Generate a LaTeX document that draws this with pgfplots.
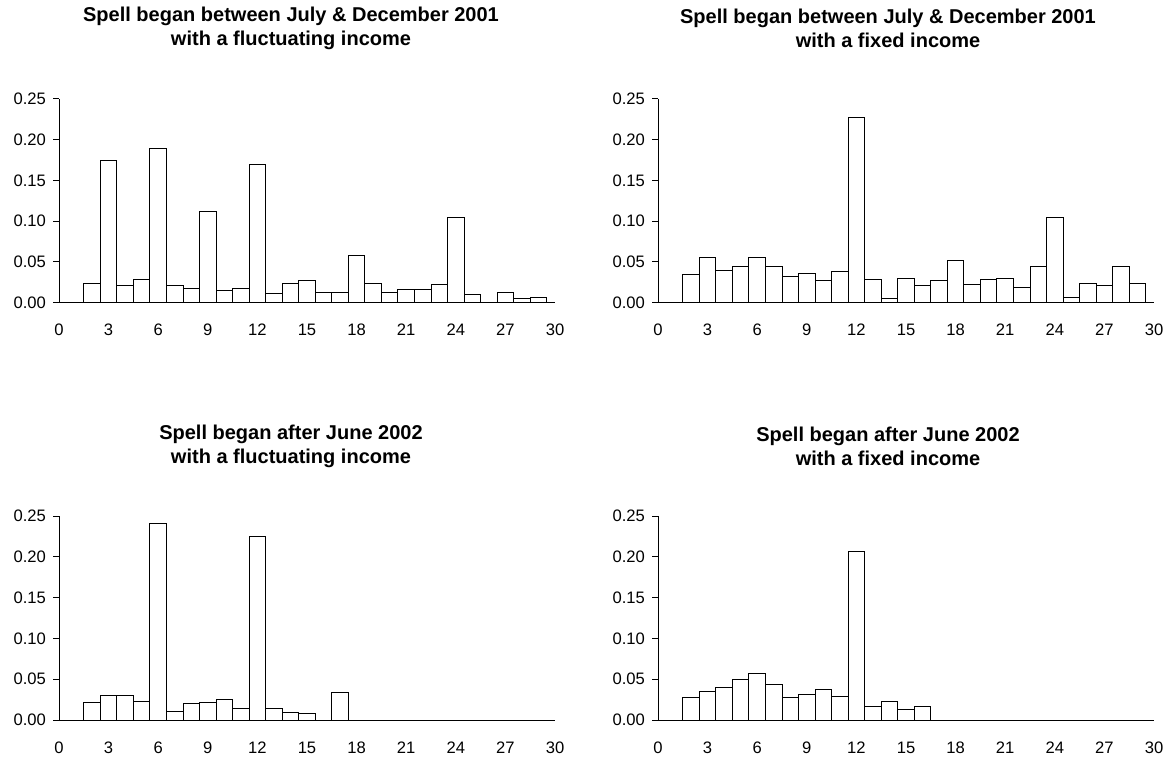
\documentclass[border=0pt]{standalone}
\usepackage{fontspec}
\setmainfont{Liberation Sans}
\usepackage{pgfplots}
\pgfplotsset{compat=1.18}
\pgfplotsset{
 hist/.style={
  scale only axis, width=248pt, height=102pt,
  xmin=0, xmax=30, ymin=0, ymax=0.25,
  axis lines=left, axis line style={-, line width=0.5pt, black},
  xtick={0,3,...,30}, ytick={0,0.05,0.1,0.15,0.2,0.25},
  x tick style={draw=none}, y tick style={line width=0.5pt, black},
  tick align=outside, major tick length=3pt,
  yticklabel style={/pgf/number format/fixed, /pgf/number format/precision=2, /pgf/number format/fixed zerofill},
  /pgf/number format/assume math mode=true,
  tick label style={font=\fontsize{8.3}{10}\selectfont},
  xticklabel style={yshift=-4.3pt},
  clip=false,
 },
 bars/.style={ybar, bar width=1, fill=white, draw=black, line width=0.5pt},
}
\begin{document}
\begin{tikzpicture}
\path (0,0) rectangle (586pt,-378pt);
\tikzset{ttl/.style={align=center, font=\bfseries\fontsize{10}{12}\selectfont}}
\node[ttl] at (145.5pt,-13.5pt) {Spell began between July \& December 2001\\with a fluctuating income};
\node[ttl] at (444pt,-13.5pt) {Spell began between July \& December 2001\\with a fixed income};
\node[ttl] at (145.5pt,-222.5pt) {Spell began after June 2002\\with a fluctuating income};
\node[ttl] at (444pt,-222.5pt) {Spell began after June 2002\\with a fixed income};

\begin{axis}[hist, at={(29.5pt,-150.85pt)}, anchor=south west]
\addplot[bars] coordinates {(2,0.024) (3,0.174) (4,0.021) (5,0.028) (6,0.189) (7,0.021) (8,0.018) (9,0.112) (10,0.015) (11,0.017) (12,0.170) (13,0.011) (14,0.024) (15,0.027) (16,0.013) (17,0.013) (18,0.058) (19,0.024) (20,0.013) (21,0.016) (22,0.016) (23,0.022) (24,0.104) (25,0.010) (27,0.013) (28,0.005) (29,0.007)};
\end{axis}

\begin{axis}[hist, at={(329pt,-150.85pt)}, anchor=south west]
\addplot[bars] coordinates {(2,0.035) (3,0.056) (4,0.039) (5,0.044) (6,0.055) (7,0.045) (8,0.032) (9,0.036) (10,0.027) (11,0.038) (12,0.227) (13,0.028) (14,0.005) (15,0.030) (16,0.021) (17,0.027) (18,0.052) (19,0.022) (20,0.028) (21,0.030) (22,0.019) (23,0.044) (24,0.104) (25,0.006) (26,0.024) (27,0.021) (28,0.044) (29,0.024)};
\end{axis}

\begin{axis}[hist, at={(29.5pt,-359.5pt)}, anchor=south west]
\addplot[bars] coordinates {(2,0.0214) (3,0.0295) (4,0.0295) (5,0.023) (6,0.241) (7,0.0105) (8,0.020) (9,0.0214) (10,0.0247) (11,0.0138) (12,0.225) (13,0.0138) (14,0.0093) (15,0.0077) (17,0.034)};
\end{axis}

\begin{axis}[hist, at={(329pt,-359.5pt)}, anchor=south west]
\addplot[bars] coordinates {(2,0.028) (3,0.0354) (4,0.040) (5,0.0495) (6,0.057) (7,0.0435) (8,0.028) (9,0.031) (10,0.037) (11,0.029) (12,0.206) (13,0.017) (14,0.0233) (15,0.0125) (16,0.017)};
\end{axis}
\end{tikzpicture}
\end{document}
